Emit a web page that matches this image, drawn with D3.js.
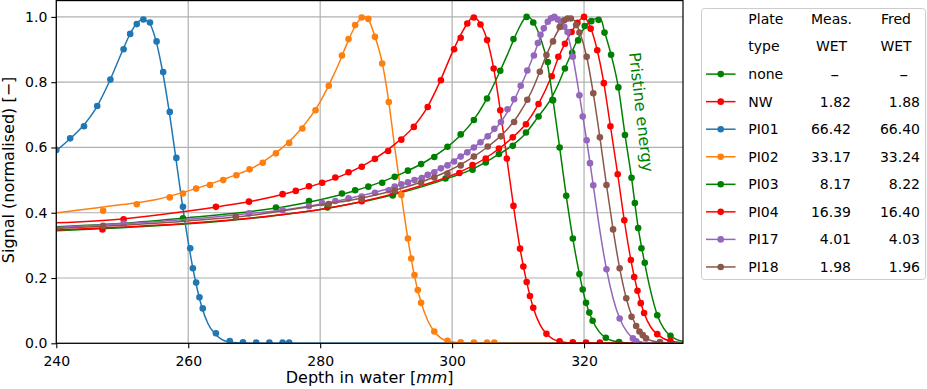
<!DOCTYPE html>
<html><head><meta charset="utf-8">
<script src="https://cdn.jsdelivr.net/npm/d3@7"></script>
<style>
html,body{margin:0;padding:0;background:#fff;}
svg{display:block;font-family:"DejaVu Sans",sans-serif;}
</style></head>
<body><svg id="c" width="927" height="389"></svg>
<script>
// ---------- data ----------
const plates = ["none","NW","PI01","PI02","PI03","PI04","PI17","PI18"];
const measWET = ["–","1.82","66.42","33.17","8.17","16.39","4.01","1.98"];
const fredWET = ["–","1.88","66.40","33.24","8.22","16.40","4.03","1.96"];
const plateColors = ["#008000","#ff0000","#1f77b4","#ff7f0e","#008000","#ff0000","#9467bd","#8c564b"];
const xTicks = [240,260,280,300,320];
const yTicks = [0.0,0.2,0.4,0.6,0.8,1.0];

// measured points [depth mm, signal]
const none_meas = [[281.1,0.416],[291.0,0.453],[299.0,0.505],[303.1,0.532],[305.1,0.554],[307.1,0.58],[309.2,0.605],[311.2,0.646],[313.1,0.695],[315.2,0.745],[317.1,0.842],[318.2,0.89],[319.1,0.928],[320.1,0.972],[321.1,0.987],[322.2,0.991],[323.1,0.952],[324.1,0.884],[325.2,0.784],[326.2,0.638],[327.2,0.507],[327.7,0.43],[328.2,0.353],[328.7,0.291],[329.2,0.247],[331.1,0.086],[333.1,0.023]];
const none_fit = [[240,0.345],[250,0.354],[260,0.366],[270,0.384],[280,0.41],[285,0.428],[290,0.45],[295,0.477],[300,0.51],[303,0.533],[306,0.566],[309,0.605],[311,0.64],[313,0.693],[315,0.75],[316,0.79],[317,0.838],[318,0.885],[319,0.93],[320,0.965],[321,0.987],[322,0.995],[322.6,0.99],[323.1,0.955],[324.1,0.884],[325.2,0.784],[326.2,0.64],[327.2,0.507],[328.2,0.355],[329.2,0.245],[330.1,0.16],[331.1,0.087],[332.1,0.045],[333.1,0.023],[334,0.012],[335,0.006]];

const nw_meas = [[247.0,0.349],[286.3,0.435],[301.1,0.522],[303.1,0.546],[305.1,0.566],[307.1,0.597],[309.2,0.631],[311.2,0.671],[313.1,0.733],[315.1,0.818],[316.1,0.878],[317.1,0.918],[318.1,0.954],[319.0,0.982],[320.0,1.0],[321.0,0.964],[322.0,0.898],[323.0,0.797],[324.0,0.665],[325.1,0.518],[326.1,0.377],[327.1,0.255],[327.6,0.203],[328.1,0.161],[328.6,0.123],[329.1,0.093],[331.1,0.028],[333.1,0.007]];
const nw_fit = [[240,0.347],[250,0.356],[260,0.368],[270,0.385],[280,0.41],[286,0.433],[290,0.452],[295,0.481],[300,0.515],[303,0.543],[306,0.58],[309,0.628],[311,0.668],[313,0.73],[315,0.815],[316.1,0.875],[317.1,0.918],[318.1,0.954],[319.0,0.982],[320.0,1.0],[321.0,0.966],[322.0,0.898],[323.0,0.797],[324.0,0.665],[325.1,0.518],[326.1,0.377],[327.1,0.255],[328.1,0.161],[329.1,0.093],[330.1,0.05],[331.1,0.028],[332.1,0.014],[333.1,0.007],[335,0.002]];

const pi01_meas = [[240,0.592],[242.1,0.628],[244.2,0.665],[246.2,0.727],[248.2,0.808],[250.2,0.901],[251.2,0.948],[252.2,0.978],[253.2,0.992],[254.2,0.983],[255.2,0.925],[256.2,0.831],[257.2,0.709],[258.2,0.568],[259.2,0.418],[260.3,0.291],[260.7,0.230],[261.2,0.186],[261.7,0.141],[262.2,0.107],[264.2,0.031],[266.3,0.007],[268.3,0.003],[270.3,0.002],[272.3,0.002],[274.3,0.002],[275.3,0.002]];
const pi01_fit = [[240,0.59],[242,0.625],[244,0.665],[246,0.72],[248,0.80],[250,0.895],[251,0.94],[252,0.975],[253,0.992],[254,0.985],[255,0.935],[256,0.845],[257,0.725],[258,0.585],[259,0.44],[260,0.31],[261,0.2],[262,0.115],[263,0.06],[264,0.03],[265,0.013],[266,0.005],[268,0.001],[270,0],[335,0]];

const pi02_meas = [[247.1,0.406],[252.2,0.426],[257.2,0.447],[259.2,0.459],[261.2,0.474],[263.3,0.485],[265.3,0.5],[267.3,0.515],[269.3,0.533],[271.3,0.553],[273.3,0.582],[275.3,0.614],[277.3,0.658],[279.3,0.714],[281.3,0.789],[283.3,0.882],[284.3,0.932],[285.3,0.975],[286.3,0.998],[287.3,0.994],[288.3,0.939],[289.4,0.857],[290.4,0.739],[292.3,0.454],[293.3,0.321],[293.8,0.26],[294.3,0.209],[294.8,0.163],[295.3,0.124],[297.3,0.036],[299.3,0.008],[301.3,0.003],[303.3,0.002],[305.3,0.002],[306.4,0.002]];
const pi02_fit = [[240,0.40],[245,0.412],[250,0.425],[255,0.44],[260,0.467],[265,0.5],[268,0.522],[270,0.54],[272,0.565],[274,0.595],[276,0.632],[278,0.68],[280,0.74],[282,0.82],[283,0.865],[284,0.915],[285,0.96],[286,0.992],[286.7,1.0],[287.5,0.985],[288.3,0.94],[289.4,0.86],[290.4,0.74],[291.3,0.6],[292.3,0.455],[293.3,0.32],[294.3,0.205],[295.3,0.125],[296.3,0.07],[297.3,0.036],[298.3,0.016],[299.3,0.007],[301,0.002],[303,0],[335,0]];

const pi03_meas = [[259.2,0.383],[273.3,0.416],[278.3,0.436],[283.3,0.459],[285.3,0.469],[287.3,0.48],[289.4,0.492],[291.3,0.51],[293.3,0.529],[295.3,0.549],[297.3,0.571],[299.3,0.602],[301.3,0.64],[303.3,0.684],[305.3,0.75],[307.3,0.835],[309.3,0.932],[311.3,1.0],[312.3,0.983],[314.5,0.862],[315.3,0.745],[316.3,0.6],[317.3,0.452],[318.3,0.321],[319.3,0.212],[319.8,0.165],[320.3,0.124],[320.8,0.094],[321.3,0.069],[323.3,0.017],[325.3,0.004]];
const pi03_fit = [[240,0.357],[250,0.368],[260,0.385],[270,0.405],[275,0.42],[280,0.44],[285,0.466],[290,0.5],[293,0.526],[296,0.557],[299,0.597],[301,0.632],[303,0.677],[305,0.74],[307,0.822],[308.5,0.89],[310,0.96],[311,0.995],[311.6,1.0],[312.3,0.985],[313.4,0.935],[314.4,0.862],[315.3,0.745],[316.3,0.6],[317.3,0.452],[318.3,0.321],[319.3,0.212],[320.3,0.124],[321.3,0.069],[322.3,0.035],[323.3,0.017],[324.3,0.008],[325.3,0.004],[327,0.001],[335,0]];

const pi04_meas = [[250.2,0.38],[264.2,0.418],[269.2,0.434],[274.3,0.457],[276.3,0.467],[278.3,0.481],[280.3,0.492],[282.3,0.508],[284.3,0.524],[286.3,0.541],[288.3,0.565],[290.3,0.589],[292.3,0.624],[294.2,0.663],[296.3,0.724],[298.3,0.806],[300.3,0.901],[301.3,0.936],[302.3,0.98],[303.3,0.998],[304.3,0.977],[305.3,0.929],[306.3,0.842],[307.3,0.714],[308.3,0.566],[309.3,0.421],[310.3,0.29],[310.8,0.235],[311.3,0.188],[311.8,0.145],[312.3,0.109],[314.3,0.029],[316.3,0.006],[318.3,0.003],[320.3,0.002],[322.4,0.002]];
const pi04_fit = [[240,0.369],[250,0.381],[260,0.405],[265,0.42],[270,0.437],[275,0.46],[280,0.49],[284,0.52],[288,0.562],[291,0.605],[294,0.66],[296,0.715],[298,0.795],[300,0.89],[301.3,0.945],[302.3,0.98],[303.2,1.0],[304.2,0.982],[305.3,0.93],[306.3,0.842],[307.3,0.714],[308.3,0.566],[309.3,0.421],[310.3,0.29],[311.3,0.188],[312.3,0.109],[313.3,0.058],[314.3,0.029],[315.3,0.013],[316.3,0.006],[318,0.001],[335,0]];

const pi17_meas = [[250.2,0.367],[269.2,0.398],[274.3,0.408],[278.3,0.42],[280.3,0.43],[282.3,0.436],[284.3,0.444],[286.3,0.45],[288.3,0.461],[290.4,0.469],[291.3,0.48],[292.3,0.487],[293.3,0.493],[294.3,0.5],[295.4,0.506],[296.3,0.516],[297.3,0.524],[298.3,0.536],[299.3,0.545],[300.3,0.557],[301.3,0.572],[302.3,0.585],[303.3,0.6],[304.3,0.616],[305.4,0.634],[306.4,0.657],[307.4,0.678],[308.4,0.717],[309.4,0.748],[310.4,0.789],[311.4,0.836],[312.4,0.882],[313.0,0.92],[313.4,0.945],[313.9,0.965],[314.5,0.985],[315.0,0.996],[315.5,1.0],[316.0,0.992],[316.5,0.985],[317.0,0.97],[317.5,0.954],[318.3,0.878],[319.3,0.76],[319.8,0.695],[320.4,0.622],[320.9,0.552],[321.4,0.484],[323.4,0.227],[325.4,0.076],[327.4,0.015],[327.9,0.006]];
const pi17_fit = [[240,0.355],[250,0.366],[260,0.38],[270,0.399],[275,0.41],[280,0.426],[285,0.447],[290,0.472],[293,0.492],[296,0.514],[299,0.545],[302,0.582],[305,0.628],[307,0.668],[309,0.73],[311,0.815],[312.5,0.89],[313.5,0.945],[314.5,0.985],[315.5,1.0],[316.5,0.988],[317.3,0.96],[318.3,0.878],[319.3,0.76],[320.4,0.622],[321.4,0.484],[322.4,0.345],[323.4,0.227],[324.4,0.138],[325.4,0.076],[326.4,0.038],[327.4,0.016],[328.4,0.006],[330,0.001],[335,0]];

const pi18_meas = [[247.1,0.36],[267.2,0.388],[281.3,0.427],[286.3,0.442],[291.3,0.468],[295.3,0.492],[297.3,0.508],[299.3,0.52],[301.3,0.545],[303.3,0.572],[305.4,0.603],[307.4,0.634],[309.4,0.678],[311.4,0.746],[313.3,0.832],[314.3,0.883],[315.3,0.925],[316.3,0.969],[317.0,0.99],[317.5,0.995],[318.0,0.995],[318.8,0.975],[319.3,0.952],[320.4,0.878],[321.4,0.766],[322.4,0.631],[323.4,0.485],[324.4,0.349],[325.4,0.23],[326.4,0.138],[327.2,0.081],[327.9,0.053],[328.4,0.036],[328.9,0.025],[329.4,0.015],[331.5,0.004]];
const pi18_fit = [[240,0.352],[250,0.362],[260,0.375],[270,0.393],[280,0.424],[285,0.44],[290,0.462],[295,0.492],[299,0.524],[302,0.556],[305,0.596],[308,0.648],[310,0.698],[312,0.77],[313.3,0.832],[314.3,0.883],[315.3,0.928],[316.3,0.966],[317.2,0.99],[317.8,0.997],[318.5,0.99],[319.3,0.955],[320.4,0.878],[321.4,0.766],[322.4,0.631],[323.4,0.485],[324.4,0.349],[325.4,0.23],[326.4,0.138],[327.4,0.075],[328.4,0.036],[329.4,0.016],[330.4,0.007],[331.5,0.003],[333,0.001],[335,0]];

const measSets = [none_meas, nw_meas, pi01_meas, pi02_meas, pi03_meas, pi04_meas, pi17_meas, pi18_meas];
const fitSets  = [none_fit,  nw_fit,  pi01_fit,  pi02_fit,  pi03_fit,  pi04_fit,  pi17_fit,  pi18_fit];

// ---------- layout ----------
const svg = d3.select("#c");
const L = 56.3, R = 683, T = 0.6, B = 343.3;
const x = d3.scaleLinear().domain([240,335]).range([L,R]);
const y = d3.scaleLinear().domain([0,1.05]).range([B,T]);

// grid
const grid = svg.append("g");
grid.selectAll("line.v").data(xTicks).join("line")
  .attr("x1",d=>x(d)).attr("x2",d=>x(d)).attr("y1",T).attr("y2",B)
  .attr("stroke","#b0b0b0").attr("stroke-width",1.2);
grid.selectAll("line.h").data(yTicks).join("line")
  .attr("y1",d=>y(d)).attr("y2",d=>y(d)).attr("x1",L).attr("x2",R)
  .attr("stroke","#b0b0b0").attr("stroke-width",1.2);

// clip
svg.append("defs").append("clipPath").attr("id","pc").append("rect")
  .attr("x",L).attr("y",T).attr("width",R-L).attr("height",B-T);

const plotG = svg.append("g").attr("clip-path","url(#pc)");
const line = d3.line().x(d=>x(d[0])).y(d=>y(d[1])).curve(d3.curveMonotoneX);

plates.forEach((p,i)=>{
  const g = plotG.append("g");
  g.append("path").datum(fitSets[i]).attr("d",line)
    .attr("fill","none").attr("stroke",plateColors[i]).attr("stroke-width",1.5);
  g.selectAll("circle").data(measSets[i]).join("circle")
    .attr("cx",d=>x(d[0])).attr("cy",d=>y(d[1])).attr("r",3.3)
    .attr("fill",plateColors[i]);
});

// axes
const xAxis = d3.axisBottom(x).tickValues(xTicks).tickSize(5).tickPadding(4).tickFormat(d3.format("d"));
const yAxis = d3.axisLeft(y).tickValues(yTicks).tickSize(5).tickPadding(4).tickFormat(d3.format(".1f"));
const gx = svg.append("g").attr("transform",`translate(0,${B})`).call(xAxis);
const gy = svg.append("g").attr("transform",`translate(${L},0)`).call(yAxis);
[gx,gy].forEach(g=>{
  g.select(".domain").remove();
  g.selectAll("line").attr("stroke","#000").attr("stroke-width",1.1);
  g.selectAll("text").attr("font-size",14).attr("fill","#000").attr("font-family","DejaVu Sans");
});
gx.selectAll("text").attr("dy","0.95em");
// frame
svg.append("rect").attr("x",L).attr("y",T).attr("width",R-L).attr("height",B-T)
  .attr("fill","none").attr("stroke","#000").attr("stroke-width",1.2);

// axis labels
const xl = svg.append("text").attr("x",(L+R)/2).attr("y",383).attr("text-anchor","middle")
  .attr("font-size",16).attr("fill","#000");
xl.append("tspan").text("Depth in water [");
xl.append("tspan").attr("font-style","italic").text("mm");
xl.append("tspan").text("]");
svg.append("text").attr("transform",`translate(13.5,${(T+B)/2 - 2}) rotate(-90)`)
  .attr("text-anchor","middle").attr("font-size",16).attr("fill","#000")
  .text("Signal (normalised) [−]");

// annotation
svg.append("text").attr("transform","translate(629,53) rotate(83.5)")
  .attr("font-size",16).attr("fill","#008000").text("Pristine energy");

// legend
const lg = svg.append("g");
lg.append("rect").attr("x",701.5).attr("y",8.5).attr("width",224).attr("height",271).attr("rx",3)
  .attr("fill","#fff").attr("fill-opacity",0.8).attr("stroke","#cccccc").attr("stroke-width",1);
const rowY = i => 19 + i*27.55;
const headers = [["Plate","Meas.","Fred"],["type","WET","WET"]];
headers.forEach((h,i)=>{
  lg.append("text").attr("x",748.3).attr("y",rowY(i)).attr("dy","0.35em").attr("font-size",14).text(h[0]);
  lg.append("text").attr("x",831.5).attr("y",rowY(i)).attr("dy","0.35em").attr("font-size",14).attr("text-anchor","middle").text(h[1]);
  lg.append("text").attr("x",896).attr("y",rowY(i)).attr("dy","0.35em").attr("font-size",14).attr("text-anchor","middle").text(h[2]);
});
plates.forEach((p,i)=>{
  const yy = rowY(i+2);
  lg.append("line").attr("x1",706).attr("x2",735.5).attr("y1",yy).attr("y2",yy)
    .attr("stroke",plateColors[i]).attr("stroke-width",1.5);
  lg.append("circle").attr("cx",720.7).attr("cy",yy).attr("r",3.3).attr("fill",plateColors[i]);
  lg.append("text").attr("x",748.3).attr("y",yy).attr("dy","0.35em").attr("font-size",14).text(p);
  const dash = measWET[i]==="–";
  lg.append("text").attr("x",dash?834.7:851).attr("y",yy).attr("dy","0.35em").attr("font-size",dash?17:14)
    .attr("text-anchor",dash?"middle":"end").text(measWET[i]);
  lg.append("text").attr("x",dash?903.7:920).attr("y",yy).attr("dy","0.35em").attr("font-size",dash?17:14)
    .attr("text-anchor",dash?"middle":"end").text(fredWET[i]);
});
</script></body></html>
